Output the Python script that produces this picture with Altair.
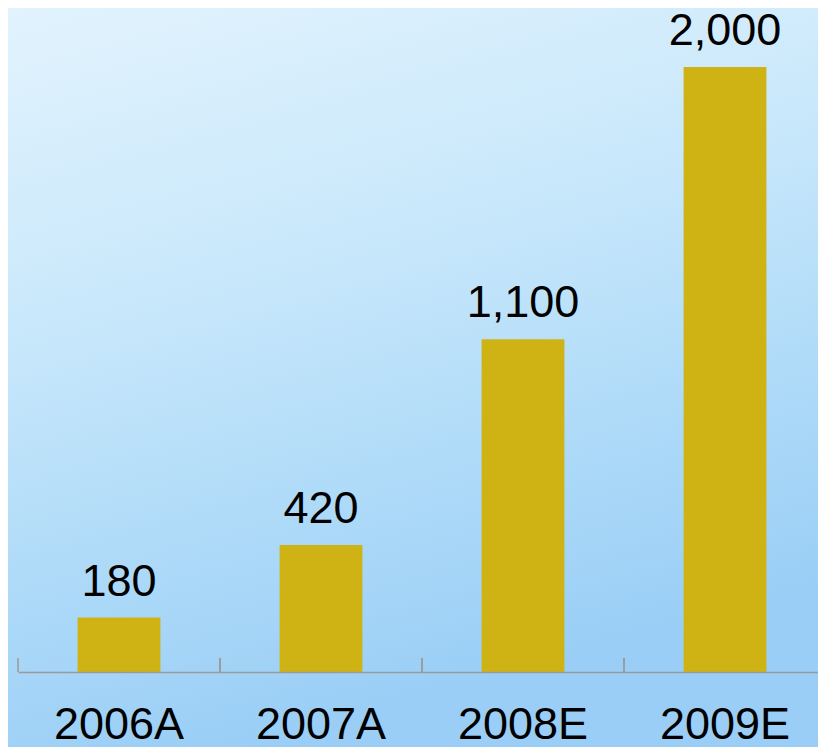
import altair as alt
import pandas as pd

categories = ["2006A", "2007A", "2008E", "2009E"]
values = [180, 420, 1100, 2000]
value_labels = ["180", "420", "1,100", "2,000"]

df = pd.DataFrame({"cat": categories, "val": values, "label": value_labels})

W, H = 800, 605
BAND_RANGE = 808
BOTTOM = 75
FONT = "Liberation Sans"

x_scale = alt.Scale(paddingInner=0, paddingOuter=0, range=[0, BAND_RANGE])
y_scale = alt.Scale(domain=[0, 2000], nice=False, zero=True)

x_axis = alt.Axis(
    title=None, labelAngle=0, labelFont=FONT, labelFontSize=45, labelColor="black",
    labelPadding=66, labelBaseline="alphabetic", ticks=False, tickSize=0,
    domainColor="#9a9a9a", domainWidth=1.5, zindex=1,
)

gradient = alt.LinearGradient(
    gradient="linear",
    stops=[
        alt.GradientStop(color="#e2f3fd", offset=0),
        alt.GradientStop(color="#c9e8fb", offset=0.4),
        alt.GradientStop(color="#acd9f8", offset=0.75),
        alt.GradientStop(color="#9acef6", offset=1),
    ],
    x1=0, x2=0.3, y1=0, y2=1,
)

bg = alt.Chart(alt.Data(values=[{}])).mark_rect(color=gradient, clip=False).encode(
    x=alt.value(-10), x2=alt.value(W), y=alt.value(-59), y2=alt.value(H + BOTTOM)
)

base = alt.Chart(df)

bars = base.mark_bar(color="#cfb314", width=alt.RelativeBandSize(0.41)).encode(
    x=alt.X("cat:N", sort=categories, scale=x_scale, axis=x_axis),
    y=alt.Y("val:Q", scale=y_scale, axis=None),
)

text = base.mark_text(font=FONT, fontSize=45, color="black", baseline="alphabetic", dy=-22).encode(
    x=alt.X("cat:N", sort=categories),
    y=alt.Y("val:Q"),
    text="label:N",
)

ticks_left = base.mark_rule(color="#9a9a9a", strokeWidth=1.5).encode(
    x=alt.X("cat:N", sort=categories, bandPosition=0),
    y=alt.value(H - 14), y2=alt.value(H),
)
ticks_right = base.mark_rule(color="#9a9a9a", strokeWidth=1.5).encode(
    x=alt.X("cat:N", sort=categories, bandPosition=1),
    y=alt.value(H - 14), y2=alt.value(H),
)

chart = alt.layer(bg, bars, ticks_left, ticks_right, text).properties(
    width=W, height=H,
    autosize=alt.AutoSizeParams(type="none"),
    padding={"left": 10, "top": 59, "right": 0, "bottom": BOTTOM},
    background="#c6e7fb",
).configure_view(stroke=None)

chart.save("out.html", embed_options={"renderer": "svg", "actions": False})
